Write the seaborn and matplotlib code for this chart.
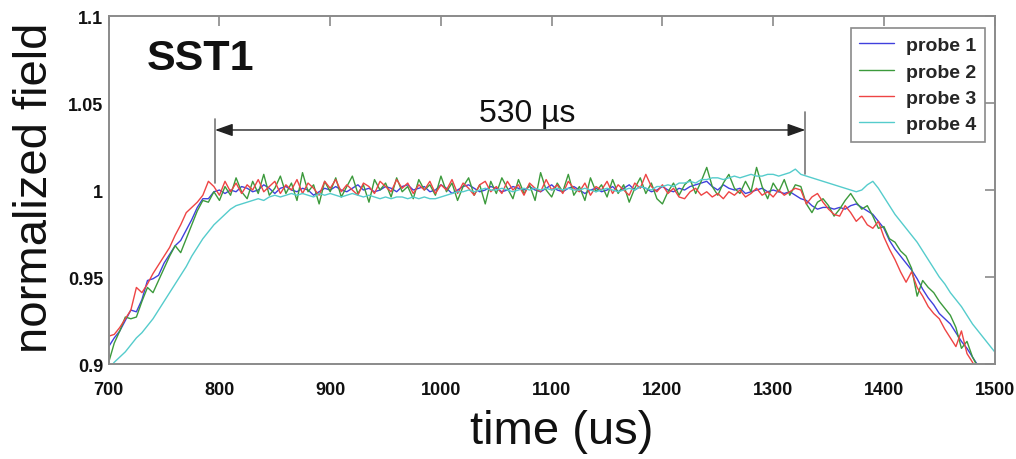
import matplotlib
matplotlib.use("Agg")
import matplotlib.pyplot as plt
import matplotlib.font_manager as fm
import seaborn as sns
import pandas as pd

# ---------------- data ----------------
time_us = [
    700, 705, 710, 715, 720, 725, 730, 735, 740, 745,
    750, 755, 760, 765, 770, 775, 780, 785, 790, 795,
    800, 805, 810, 815, 820, 825, 830, 835, 840, 845,
    850, 855, 860, 865, 870, 875, 880, 885, 890, 895,
    900, 905, 910, 915, 920, 925, 930, 935, 940, 945,
    950, 955, 960, 965, 970, 975, 980, 985, 990, 995,
    1000, 1005, 1010, 1015, 1020, 1025, 1030, 1035, 1040, 1045,
    1050, 1055, 1060, 1065, 1070, 1075, 1080, 1085, 1090, 1095,
    1100, 1105, 1110, 1115, 1120, 1125, 1130, 1135, 1140, 1145,
    1150, 1155, 1160, 1165, 1170, 1175, 1180, 1185, 1190, 1195,
    1200, 1205, 1210, 1215, 1220, 1225, 1230, 1235, 1240, 1245,
    1250, 1255, 1260, 1265, 1270, 1275, 1280, 1285, 1290, 1295,
    1300, 1305, 1310, 1315, 1320, 1325, 1330, 1335, 1340, 1345,
    1350, 1355, 1360, 1365, 1370, 1375, 1380, 1385, 1390, 1395,
    1400, 1405, 1410, 1415, 1420, 1425, 1430, 1435, 1440, 1445,
    1450, 1455, 1460, 1465, 1470, 1475, 1480, 1485, 1490, 1495,
    1500,
]

probe1 = [
    0.910, 0.915, 0.919, 0.925, 0.931, 0.930, 0.937, 0.948, 0.949, 0.951,
    0.958, 0.963, 0.968, 0.971, 0.977, 0.983, 0.990, 0.995, 0.995, 0.999,
    1.000, 0.998, 1.000, 0.999, 1.002, 1.001, 0.999, 1.000, 1.003, 1.001,
    0.998, 1.001, 1.002, 1.000, 0.999, 1.001, 1.000, 0.997, 0.999, 1.001,
    1.000, 1.002, 1.000, 0.999, 1.001, 1.003, 1.000, 1.001, 0.999, 1.000,
    1.002, 1.001, 0.999, 1.002, 1.003, 1.000, 1.001, 1.002, 0.999, 1.000,
    1.003, 1.001, 0.998, 1.000, 1.002, 1.003, 1.001, 0.999, 1.000, 1.002,
    1.001, 0.999, 1.000, 1.002, 1.001, 1.000, 1.002, 1.000, 0.999, 1.001,
    1.003, 1.000, 0.999, 1.001, 1.002, 1.000, 0.998, 1.000, 1.001, 0.999,
    1.000, 1.002, 0.999, 1.001, 1.003, 1.000, 1.002, 1.001, 0.999, 1.000,
    1.002, 1.000, 0.999, 1.001, 1.000, 1.002, 1.003, 1.004, 1.005, 1.002,
    1.000, 1.003, 1.001, 1.000, 1.001, 0.998, 0.999, 1.000, 1.001, 0.999,
    1.000, 0.999, 0.998, 0.999, 0.997, 0.995, 0.994, 0.991, 0.989, 0.990,
    0.990, 0.989, 0.990, 0.989, 0.991, 0.992, 0.990, 0.988, 0.986, 0.982,
    0.978, 0.971, 0.966, 0.962, 0.958, 0.954, 0.949, 0.943, 0.938, 0.934,
    0.929, 0.926, 0.923, 0.918, 0.913, 0.909, 0.904, 0.899, 0.895, 0.891,
    0.887,
]

probe2 = [
    0.901, 0.912, 0.919, 0.927, 0.926, 0.927, 0.936, 0.944, 0.941, 0.948,
    0.955, 0.962, 0.968, 0.964, 0.972, 0.980, 0.988, 0.994, 0.993, 0.999,
    0.994, 1.002, 0.997, 1.007, 0.999, 0.995, 1.005, 0.998, 1.009, 0.997,
    1.001, 1.008, 0.998, 1.004, 0.994, 1.010, 0.999, 1.003, 0.992, 1.005,
    0.999, 1.007, 0.996, 1.002, 1.008, 0.998, 1.003, 0.993, 1.006, 1.000,
    1.004, 0.996, 1.007, 0.999, 1.002, 0.995, 1.006, 1.000, 1.003, 0.997,
    1.008, 0.999, 1.004, 0.994, 1.002, 1.007, 0.997, 1.003, 0.992, 1.005,
    0.998, 1.007, 1.001, 0.995, 1.006, 0.998, 1.003, 0.994, 1.010, 1.000,
    0.996, 1.004, 0.999, 1.009, 0.997, 1.002, 0.994, 1.007, 0.999, 1.003,
    0.996, 1.006, 0.998, 1.003, 0.993, 1.001, 1.007, 0.998, 1.004, 0.995,
    0.992, 0.999, 1.004, 0.997, 1.003, 1.006, 0.998, 1.005, 1.013, 1.002,
    0.997, 1.004, 1.009, 1.001, 0.998, 1.005, 0.999, 1.013, 1.002, 0.995,
    1.004, 0.999, 1.006, 0.997, 1.003, 1.002, 0.992, 0.987, 0.993, 0.995,
    0.991, 0.985, 0.989, 0.994, 0.998, 0.993, 0.989, 0.991, 0.985, 0.978,
    0.979, 0.972, 0.970, 0.965, 0.962, 0.955, 0.939, 0.948, 0.944, 0.941,
    0.936, 0.932, 0.928, 0.921, 0.909, 0.913, 0.904, 0.898, 0.893, 0.889,
    0.885,
]

probe3 = [
    0.916, 0.917, 0.921, 0.926, 0.931, 0.944, 0.941, 0.946, 0.952, 0.957,
    0.962, 0.967, 0.974, 0.980, 0.987, 0.990, 0.993, 0.997, 1.005, 1.002,
    0.997, 1.005, 0.999, 1.004, 0.998, 1.003, 1.000, 1.006, 0.999, 1.002,
    1.005, 0.998, 1.003, 1.000, 1.006, 0.998, 1.004, 1.001, 0.997, 1.005,
    1.001, 1.006, 0.999, 1.003, 1.000, 0.997, 1.004, 1.002, 0.998, 1.005,
    1.002, 0.999, 1.006, 1.001, 1.004, 0.998, 1.003, 1.000, 1.005, 0.998,
    1.003, 1.000, 1.006, 0.998, 1.004, 1.001, 0.997, 1.003, 1.005, 0.999,
    1.002, 0.998, 1.005, 1.000, 1.003, 0.997, 1.004, 1.001, 0.999, 1.006,
    1.000, 1.003, 0.998, 1.005, 1.001, 0.999, 1.004, 0.997, 1.002, 1.000,
    1.005, 0.998, 1.003, 1.000, 0.997, 1.004, 1.001, 1.009, 1.002, 0.999,
    1.003, 0.998, 1.001, 0.996, 0.995, 0.999, 1.001, 0.997, 0.999, 0.996,
    0.998, 0.995, 0.999, 0.997, 1.000, 0.996, 0.998, 1.001, 0.997, 0.999,
    0.996, 1.000, 0.997, 0.999, 1.001, 1.000, 0.992, 0.996, 0.998, 0.993,
    0.989, 0.986, 0.985, 0.991, 0.987, 0.982, 0.985, 0.980, 0.978, 0.982,
    0.973, 0.966, 0.960, 0.953, 0.947, 0.953, 0.944, 0.939, 0.933, 0.929,
    0.926, 0.920, 0.915, 0.910, 0.919, 0.906, 0.901, 0.895, 0.890, 0.886,
    0.882,
]

probe4 = [
    0.897, 0.901, 0.904, 0.907, 0.911, 0.915, 0.918, 0.922, 0.926, 0.931,
    0.936, 0.941, 0.946, 0.951, 0.956, 0.962, 0.967, 0.972, 0.976, 0.980,
    0.983, 0.986, 0.989, 0.991, 0.992, 0.993, 0.994, 0.995, 0.994, 0.996,
    0.997, 0.996, 0.997, 0.998, 0.997, 0.998, 0.997, 0.996, 0.998, 0.997,
    0.998, 0.997, 0.996, 0.997, 0.998, 0.997, 0.996, 0.997, 0.996, 0.995,
    0.996, 0.995, 0.996, 0.996, 0.995, 0.996, 0.995, 0.996, 0.995, 0.995,
    0.996, 0.997, 0.998, 0.999, 0.999, 1.000, 0.999, 1.000, 1.001, 1.000,
    1.000, 1.001, 1.000, 0.999, 1.000, 1.001, 1.000, 1.001, 1.000, 1.001,
    1.000, 1.001, 1.000, 1.001, 1.000, 1.000, 1.001, 1.000, 0.999, 1.000,
    1.001, 1.000, 0.999, 1.000, 1.001, 1.000, 1.002, 1.001, 1.000, 1.002,
    1.002, 1.003, 1.002, 1.004, 1.004, 1.005, 1.004, 1.006, 1.006, 1.007,
    1.007, 1.006, 1.007, 1.008, 1.007, 1.008, 1.009, 1.008, 1.008, 1.009,
    1.009, 1.008, 1.009, 1.010, 1.012, 1.009, 1.008, 1.007, 1.006, 1.005,
    1.004, 1.003, 1.002, 1.001, 1.000, 0.999, 1.000, 1.003, 1.005, 1.001,
    0.996, 0.991, 0.986, 0.982, 0.978, 0.974, 0.970, 0.965, 0.960, 0.955,
    0.950, 0.946, 0.941, 0.937, 0.933, 0.928, 0.923, 0.919, 0.915, 0.911,
    0.907,
]

probe_names = ["probe 1", "probe 2", "probe 3", "probe 4"]
probe_colors = ["#4040dd", "#3c9a3c", "#ee4444", "#55cccc"]
x_ticks = [700, 800, 900, 1000, 1100, 1200, 1300, 1400, 1500]
y_ticks = [0.9, 0.95, 1.0, 1.05, 1.1]
y_tick_labels = ["0.9", "0.95", "1", "1.05", "1.1"]
flat_top_start = 796
flat_top_end = 1329
flat_top_label = "530 \u00b5s"

# ---------------- figure ----------------
sns.set_theme(style="white")
names = {f.name for f in fm.fontManager.ttflist}
base_font = "Liberation Sans" if "Liberation Sans" in names else "DejaVu Sans"
plt.rcParams["font.family"] = [base_font, "DejaVu Sans"]

df = pd.concat(
    [pd.DataFrame({"time": time_us, "field": vals, "probe": name})
     for name, vals in zip(probe_names, [probe1, probe2, probe3, probe4])],
    ignore_index=True,
)

fig = plt.figure(figsize=(10.16, 4.60), dpi=100)
ax = fig.add_axes([0.107, 0.2065, 0.872, 0.7565])

sns.lineplot(data=df, x="time", y="field", hue="probe",
             palette=dict(zip(probe_names, probe_colors)),
             estimator=None, sort=False, lw=1.0, ax=ax, legend=True)

ax.set_xlim(700, 1500)
ax.set_ylim(0.9, 1.1)
ax.set_xticks(x_ticks)
ax.set_xticklabels([str(t) for t in x_ticks])
ax.set_yticks(y_ticks)
ax.set_yticklabels(y_tick_labels)
ax.set_xlabel("")
ax.set_ylabel("")

spine_col = "#8a8a8a"
for s in ax.spines.values():
    s.set_visible(True)
    s.set_color(spine_col)
    s.set_linewidth(1.4)
ax.tick_params(axis="both", which="major", direction="in", length=7,
               width=1.2, color=spine_col, top=True, right=True,
               labelsize=13)
ax.tick_params(axis="x", pad=12)
ax.tick_params(axis="y", pad=4)
for lab in ax.get_xticklabels() + ax.get_yticklabels():
    lab.set_fontweight("bold")
    lab.set_color("#111111")

# legend
handles, labels = ax.get_legend_handles_labels()
leg = ax.legend(handles, labels, loc="upper right",
                bbox_to_anchor=(0.989, 0.966), borderaxespad=0,
                frameon=True, fancybox=False, framealpha=1,
                edgecolor="#8a8a8a", handlelength=1.8, handletextpad=0.6,
                labelspacing=0.45, borderpad=0.45,
                prop={"weight": "bold", "size": 14})
leg.get_frame().set_linewidth(1.2)
for line in leg.get_lines():
    line.set_linewidth(1.0)

# SST1 label
ax.text(0.043, 0.879, "SST1", transform=ax.transAxes, fontsize=31,
        fontweight="bold", ha="left", va="center", color="#111111")

# flat-top marker
ax.plot([flat_top_start, flat_top_start], [1.0042, 1.0410], color="#777777", lw=1.2)
ax.plot([flat_top_end, flat_top_end], [1.0090, 1.0450], color="#777777", lw=1.2)
ax.annotate("", xy=(flat_top_start, 1.0345), xytext=(flat_top_end, 1.0345),
            arrowprops=dict(arrowstyle="<|-|>,head_length=0.9,head_width=0.32",
                            color="#222222", lw=1.0, shrinkA=0, shrinkB=0))
ax.text((flat_top_start + flat_top_end) / 2 + 15, 1.0398, flat_top_label,
        fontsize=23, ha="center", va="baseline", color="#111111")

# axis titles
fig.text(35 / 1016, 1 - 188 / 460, "normalized field", rotation=90,
         fontsize=34, ha="center", va="center", color="#111111")
fig.text(562 / 1016, 1 - 432 / 460, "time (us)",
         fontsize=34, ha="center", va="center", color="#111111")

fig.savefig("out.png", dpi=100)
